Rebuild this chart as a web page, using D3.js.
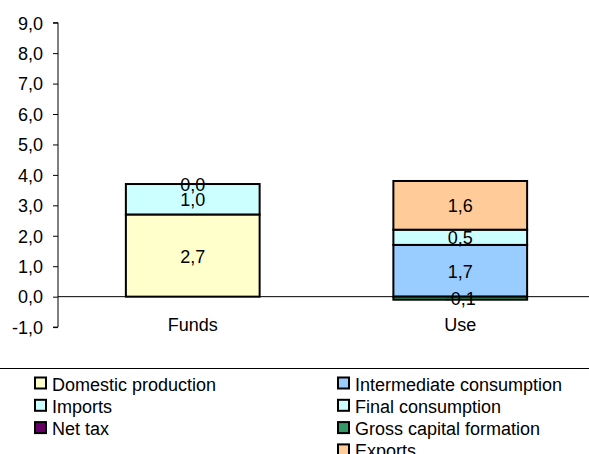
<!DOCTYPE html>
<html><head><meta charset="utf-8">
<script src="https://cdn.jsdelivr.net/npm/d3@7"></script>
<style>body{margin:0;background:#fff}svg{display:block;font-family:"Liberation Sans",Arial,sans-serif}</style>
</head><body><svg id="c" width="589" height="454"></svg>
<script>
const categories = ["Funds", "Use"];
const seriesNames = ["Domestic production", "Imports", "Net tax", "Intermediate consumption", "Final consumption", "Gross capital formation", "Exports"];
const seriesColors = ["#FFFFCC", "#CCFFFF", "#660066", "#99CCFF", "#CCFFFF", "#339966", "#FFCC99"];
const domesticProduction = [2.7, null];
const imports = [1.0, null];
const netTax = [0.0, null];
const intermediateConsumption = [null, 1.7];
const finalConsumption = [null, 0.5];
const grossCapitalFormation = [null, -0.1];
const exportsV = [null, 1.6];
const yTicks = [-1, 0, 1, 2, 3, 4, 5, 6, 7, 8, 9];

const values = [domesticProduction, imports, netTax, intermediateConsumption, finalConsumption, grossCapitalFormation, exportsV];
const FS = 18;

const svg = d3.select("#c");
const y = d3.scaleLinear().domain([-1, 9]).range([327.1, 22.7]);
const x = d3.scaleBand().domain(categories).range([59, 594]).paddingInner(0.5).paddingOuter(0.25);
const fmt = v => d3.format(".1f")(v).replace(".", ",").replace("−", "-");

// y axis
const yAxis = d3.axisLeft(y).tickValues(yTicks).tickSize(5).tickFormat(fmt);
const ga = svg.append("g").attr("transform", "translate(58,0)").call(yAxis);
ga.attr("font-size", FS).attr("font-family", null);
ga.select(".domain").attr("stroke", "#000").attr("d", `M-5,${y(-1)}H0V${y(9)}H-5`);
ga.selectAll("text").style("font-size", FS + "px").attr("fill", "#000").attr("x", -15).attr("dy", "0.35em");
ga.selectAll("line").attr("stroke", "#000");

// bars
const rects = [];
categories.forEach((cat, ci) => {
  let pos = 0, neg = 0;
  values.forEach((arr, si) => {
    const v = arr[ci];
    if (v === null) return;
    let y0, y1;
    if (v >= 0) { y0 = pos; y1 = pos + v; pos = y1; }
    else { y0 = neg + v; y1 = neg; neg = y0; }
    rects.push({cat, si, v, y0, y1});
  });
});
svg.append("g").selectAll("rect").data(rects).join("rect")
  .attr("x", d => x(d.cat)).attr("width", x.bandwidth())
  .attr("y", d => y(d.y1)).attr("height", d => Math.max(0, y(d.y0) - y(d.y1)))
  .attr("fill", d => seriesColors[d.si]).attr("stroke", "#000").attr("stroke-width", 2);

// x axis line
svg.append("line").attr("x1", 58).attr("x2", 589).attr("y1", y(0)).attr("y2", y(0)).attr("stroke", "#000");

// labels
svg.append("g").selectAll("text").data(rects).join("text")
  .attr("x", d => x(d.cat) + x.bandwidth() / 2)
  .attr("y", d => y((d.y0 + d.y1) / 2) + 7)
  .attr("text-anchor", "middle").style("font-size", FS + "px").attr("fill", "#000")
  .text(d => fmt(d.v));

// category labels
svg.append("g").selectAll("text").data(categories).join("text")
  .attr("x", d => x(d) + x.bandwidth() / 2).attr("y", 331)
  .attr("text-anchor", "middle").style("font-size", FS + "px").attr("fill", "#000").text(d => d);

// legend
svg.append("line").attr("x1", 0).attr("x2", 589).attr("y1", 368.5).attr("y2", 368.5).attr("stroke", "#000");
const legendPos = [[0,0],[0,1],[0,2],[1,0],[1,1],[1,2],[1,3]];
const lg = svg.append("g").selectAll("g").data(seriesNames).join("g")
  .attr("transform", (d, i) => `translate(${legendPos[i][0] ? 337 : 34},${390.5 + legendPos[i][1] * 22.3})`);
lg.append("rect").attr("x", 1).attr("y", -13).attr("width", 11).attr("height", 11)
  .attr("fill", (d, i) => seriesColors[i]).attr("stroke", "#000").attr("stroke-width", 2);
lg.append("text").attr("x", 18).attr("y", 0).style("font-size", FS + "px").attr("fill", "#000").text(d => d);
</script></body></html>
